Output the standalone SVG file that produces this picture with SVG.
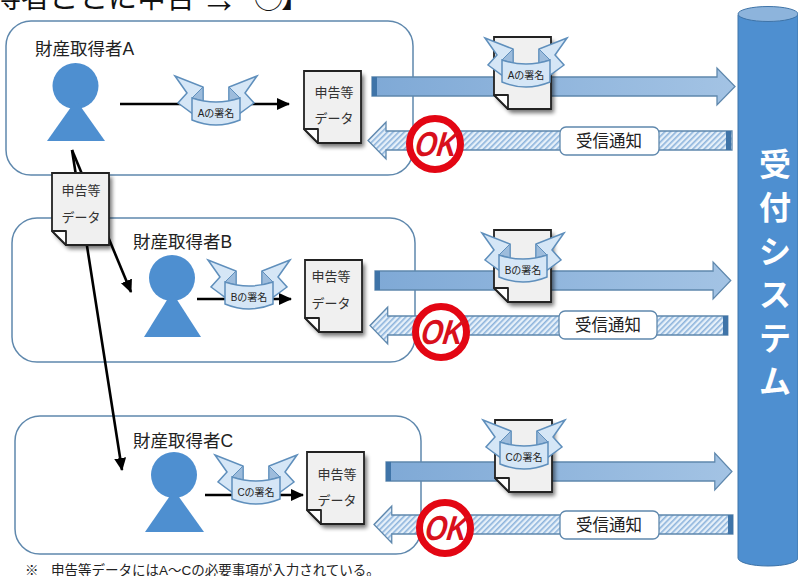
<svg xmlns="http://www.w3.org/2000/svg" width="798" height="576" viewBox="0 0 798 576">
<style>
text{font-family:"Liberation Sans","Noto Sans CJK JP",sans-serif;fill:#222}
.panel{fill:#fff;stroke:#5f88ad;stroke-width:1.5}
.person{fill:#4e8fd0}
.name{font-size:17.500px}
.doc{fill:#f0f0f0;stroke:#222;stroke-width:1.8}
.doct{font-size:13px;text-anchor:middle;fill:#333}
.ln{stroke:#000;stroke-width:2.6;fill:none}
.wing{fill:#d5e6f6;stroke:#5f8fbc;stroke-width:1.5}
.fold{fill:#9dbcdc;stroke:#5f8fbc;stroke-width:1}
.ban{font-size:10px;text-anchor:middle;fill:#222}
.ra{fill:url(#rg);stroke:#5f88ad;stroke-width:1.3}
.la{fill:url(#hatch);stroke:#5f88ad;stroke-width:1.3}
.cap{fill:#3f74a8}
.box{fill:#fff;stroke:#5f88ad;stroke-width:1.3}
.boxt{font-size:16.500px;text-anchor:middle}
.okc{fill:#fff;stroke:#e30613;stroke-width:7}
.okt{font-size:33px;font-weight:bold;font-style:italic;fill:#d8101c;text-anchor:middle}
.sys{font-size:32px;font-weight:bold;fill:#fff;text-anchor:middle}
.top{font-size:29px;fill:#111}
.foot{font-size:13.500px}
</style>
<defs>
<linearGradient id="rg"><stop offset="0" stop-color="#7fa9d6"/><stop offset="1" stop-color="#a3c3e4"/></linearGradient>
<pattern id="hatch" width="4" height="4" patternUnits="userSpaceOnUse" patternTransform="rotate(45)">
<rect width="4" height="4" fill="#e6f0f9"/><rect width="1.6" height="4" fill="#8db4dc"/>
</pattern>
<filter id="sh" x="-20%" y="-20%" width="150%" height="150%"><feGaussianBlur stdDeviation="2"/></filter>
<marker id="ah" markerUnits="userSpaceOnUse" markerWidth="14" markerHeight="12" refX="12" refY="6" orient="auto"><path d="M0,0L13,6L0,12Z" fill="#000"/></marker>
<g id="docshape">
<path d="M3,4H60V76H17L3,62Z" fill="#000" opacity=".55" filter="url(#sh)"/>
<path class="doc" d="M0,0H57V72H14L0,58Z"/>
<path d="M0,58H14V72Z" fill="#fff" stroke="#222" stroke-width="1.8" stroke-linejoin="round"/>
</g>
<g id="bn">
<path class="wing" d="M0,0L28,11V30L18,38L3,27L12,17Z"/>
<path class="wing" d="M82,0L54,11V30L64,38L79,27L70,17Z"/>
<path class="fold" d="M17,22L28,11V25Z"/>
<path class="fold" d="M65,22L54,11V25Z"/>
<path class="wing" d="M17,22Q41,30 65,22V44Q41,54 17,44Z"/>
</g>
<g id="stamp"><circle class="okc" r="25.500"/></g>
<path id="rarrow" d="M0,9H345V0L363,18.500L345,37V28H0Z"/>
<path id="larrow" d="M0,18.500L18,0V9H364V28H18V37Z"/>
</defs>

<g id="title">
<text class="top" x="-8" y="8">得者ごとに申告</text>
<text class="top" x="200" y="12" style="font-size:38px;font-weight:bold">→</text>
<text class="top" x="254" y="8">◯</text>
<text class="top" x="281" y="8">】</text>
</g>

<g id="panel-a">
<rect class="panel" x="6" y="21" width="407" height="154" rx="25"/>
<text class="name" x="35" y="55">財産取得者A</text>
<g class="person"><circle cx="75.500" cy="86" r="23"/><path d="M47,141H105L76,100Z"/></g>
</g>
<g id="panel-b">
<rect class="panel" x="12" y="218" width="403" height="144" rx="25"/>
<text class="name" x="133" y="248">財産取得者B</text>
<g class="person"><circle cx="172" cy="278" r="23"/><path d="M144,337H201L172,292Z"/></g>
</g>
<g id="panel-c">
<rect class="panel" x="15" y="416" width="406" height="138" rx="25"/>
<text class="name" x="133" y="447">財産取得者C</text>
<g class="person"><circle cx="174" cy="475" r="23"/><path d="M145,532H204L174,490Z"/></g>
</g>

<g id="connectors">
<path class="ln" d="M120,104H289" marker-end="url(#ah)"/>
<path class="ln" d="M197,299H291" marker-end="url(#ah)"/>
<path class="ln" d="M205,495H303" marker-end="url(#ah)"/>
<path class="ln" d="M72,150L131,292" marker-end="url(#ah)"/>
<path class="ln" d="M72,150L122,470" marker-end="url(#ah)"/>
</g>

<g id="sign-a"><use href="#bn" x="175" y="76"/><text class="ban" x="216" y="117">Aの署名</text></g>
<g id="sign-b"><use href="#bn" x="208" y="260"/><text class="ban" x="249" y="301">Bの署名</text></g>
<g id="sign-c"><use href="#bn" x="215" y="455"/><text class="ban" x="256" y="496">Cの署名</text></g>

<g id="doc-a"><use href="#docshape" x="304" y="71"/><text class="doct" x="334" y="97">申告等</text><text class="doct" x="334" y="123">データ</text></g>
<g id="doc-b"><use href="#docshape" x="305" y="260"/><text class="doct" x="331" y="281">申告等</text><text class="doct" x="331" y="308">データ</text></g>
<g id="doc-c"><use href="#docshape" x="307" y="452"/><text class="doct" x="337" y="479">申告等</text><text class="doct" x="337" y="505">データ</text></g>

<g id="send-a"><use href="#rarrow" class="ra" x="372" y="68"/><rect class="cap" x="372" y="77" width="5" height="19"/></g>
<g id="send-b"><use href="#rarrow" class="ra" x="375" y="262" transform="translate(375 262) scale(.98 1) translate(-375 -262)"/><rect class="cap" x="375" y="271" width="5" height="19"/></g>
<g id="send-c"><use href="#rarrow" class="ra" x="386" y="453" transform="translate(386 453) scale(.953 1) translate(-386 -453)"/><rect class="cap" x="386" y="462" width="5" height="19"/></g>

<g id="recv-a"><use href="#larrow" class="la" x="368" y="122"/><rect class="cap" x="726" y="131" width="5" height="19"/></g>
<g id="recv-b"><use href="#larrow" class="la" x="370" y="307" transform="translate(370 307) scale(.983 1) translate(-370 -307)"/><rect class="cap" x="723" y="316" width="5" height="19"/></g>
<g id="recv-c"><use href="#larrow" class="la" x="374" y="506" transform="translate(374 506) scale(.986 1) translate(-374 -506)"/><rect class="cap" x="728" y="515" width="5" height="19"/></g>

<g id="sent-a"><use href="#docshape" x="494" y="37"/><use href="#bn" x="485" y="38"/><text class="ban" x="526" y="79">Aの署名</text></g>
<g id="sent-b"><use href="#docshape" x="494" y="230"/><use href="#bn" x="482" y="233"/><text class="ban" x="523" y="274">Bの署名</text></g>
<g id="sent-c"><use href="#docshape" x="495" y="420"/><use href="#bn" x="483" y="420"/><text class="ban" x="524" y="461">Cの署名</text></g>

<g id="notice-a"><rect class="box" x="560" y="127" width="99" height="28" rx="6"/><text class="boxt" x="609" y="147">受信通知</text></g>
<g id="notice-b"><rect class="box" x="559" y="311" width="98" height="28" rx="6"/><text class="boxt" x="608" y="331">受信通知</text></g>
<g id="notice-c"><rect class="box" x="560" y="511" width="99" height="28" rx="6"/><text class="boxt" x="609" y="531">受信通知</text></g>

<g id="ok-a"><use href="#stamp" x="435" y="144"/><text class="okt" transform="translate(435 156) skewX(-8) scale(.85 1.05)">OK</text></g>
<g id="ok-b"><use href="#stamp" x="441" y="332"/><text class="okt" transform="translate(441 344) skewX(-8) scale(.85 1.05)">OK</text></g>
<g id="ok-c"><use href="#stamp" x="445" y="528"/><text class="okt" transform="translate(445 540) skewX(-8) scale(.85 1.05)">OK</text></g>

<g id="doc-float"><use href="#docshape" x="52" y="173"/><text class="doct" x="81" y="195">申告等</text><text class="doct" x="81" y="222">データ</text></g>

<g id="system">
<path d="M738,15V558A30,8 0 0 0 798,558V15Z" fill="#4e8fd0" stroke="#3f74a8"/>
<ellipse cx="768" cy="14" rx="30" ry="7.500" fill="#8db4dc" stroke="#3f74a8"/>
<text class="sys" x="775" y="176">受</text>
<text class="sys" x="775" y="219">付</text>
<text class="sys" x="775" y="263">シ</text>
<text class="sys" x="775" y="306">ス</text>
<text class="sys" x="775" y="350">テ</text>
<text class="sys" x="775" y="393">ム</text>
</g>
<text class="foot" x="25" y="575">※</text>
<text class="foot" x="51" y="575">申告等データにはA～Cの必要事項が入力されている。</text>
</svg>
